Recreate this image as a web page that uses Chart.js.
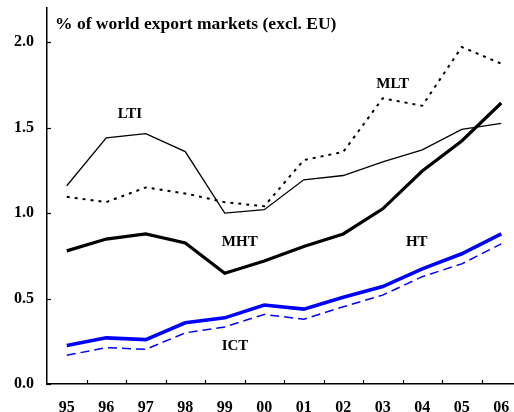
<!DOCTYPE html>
<html>
<head>
<meta charset="utf-8">
<script src="https://cdn.jsdelivr.net/npm/chart.js@4"></script>
<style>
  html, body { margin: 0; padding: 0; background: #fff; overflow: hidden; }
  #wrap { width: 514px; height: 412px; overflow: hidden; }
  canvas { display: block; }
</style>
</head>
<body>
<div id="wrap"><canvas id="c" width="522" height="412"></canvas></div>
<script>
// Export market shares by technology class, 1995-2006
const years = ['95', '96', '97', '98', '99', '00', '01', '02', '03', '04', '05', '06'];
const lti = [1.16, 1.44, 1.465, 1.36, 1.00, 1.02, 1.195, 1.22, 1.30, 1.37, 1.49, 1.525];
const mlt = [1.095, 1.064, 1.15, 1.115, 1.064, 1.04, 1.31, 1.358, 1.672, 1.628, 1.972, 1.874];
const mht = [0.779, 0.848, 0.878, 0.825, 0.648, 0.72, 0.805, 0.878, 1.025, 1.246, 1.422, 1.644];
const ht  = [0.225, 0.27, 0.26, 0.358, 0.387, 0.462, 0.438, 0.507, 0.57, 0.674, 0.762, 0.878];
const ict = [0.168, 0.213, 0.203, 0.299, 0.334, 0.407, 0.379, 0.452, 0.52, 0.628, 0.703, 0.82];
const yTicks = [0.0, 0.5, 1.0, 1.5, 2.0];

const titleText = '% of world export markets (excl. EU)';
// series captions placed in data space: [category index, value]
const captions = [
  { text: 'LTI', at: [1.6, 1.58] },
  { text: 'MLT', at: [8.25, 1.756] },
  { text: 'MHT', at: [4.38, 0.832] },
  { text: 'HT',  at: [8.86, 0.832] },
  { text: 'ICT', at: [4.26, 0.22] }
];

const FONT = '"Liberation Serif", "Times New Roman", serif';

const decorations = {
  id: 'decorations',
  afterDraw(chart) {
    const { ctx, chartArea, scales } = chart;
    const xs = scales.x, ys = scales.y;
    ctx.save();
    ctx.strokeStyle = '#000';
    ctx.lineWidth = 1.2;
    // y tick marks pointing into the plot
    yTicks.forEach(v => {
      const y = Math.round(ys.getPixelForValue(v)) + 0.5;
      ctx.beginPath();
      ctx.moveTo(chartArea.left, y);
      ctx.lineTo(chartArea.left + 4, y);
      ctx.stroke();
    });
    // x tick marks between categories, pointing up
    for (let i = 0; i < years.length - 1; i++) {
      const x = Math.round((xs.getPixelForValue(i) + xs.getPixelForValue(i + 1)) / 2) + 0.5;
      ctx.beginPath();
      ctx.moveTo(x, chartArea.bottom);
      ctx.lineTo(x, chartArea.bottom - 4);
      ctx.stroke();
    }
    // title
    ctx.fillStyle = '#000';
    ctx.font = 'bold 17.5px ' + FONT;
    ctx.textAlign = 'left';
    ctx.textBaseline = 'alphabetic';
    ctx.fillText(titleText, chartArea.left + 8, 29);
    // series captions
    ctx.font = 'bold 15px ' + FONT;
    ctx.textAlign = 'center';
    ctx.textBaseline = 'middle';
    captions.forEach(c => {
      ctx.fillText(c.text, xs.getPixelForValue(c.at[0]), ys.getPixelForValue(c.at[1]));
    });
    ctx.restore();
  }
};

new Chart(document.getElementById('c'), {
  type: 'line',
  data: {
    labels: years,
    datasets: [
      { label: 'LTI', data: lti, borderColor: '#000', borderWidth: 1.3 },
      { label: 'MLT', data: mlt, borderColor: '#000', borderWidth: 2, borderDash: [3, 5] },
      { label: 'MHT', data: mht, borderColor: '#000', borderWidth: 3.2 },
      { label: 'HT',  data: ht,  borderColor: '#0000ff', borderWidth: 3.6 },
      { label: 'ICT', data: ict, borderColor: '#0000ff', borderWidth: 1.5, borderDash: [9, 5] }
    ]
  },
  options: {
    responsive: false,
    animation: false,
    devicePixelRatio: 1,
    layout: { padding: { top: 8, right: 1, left: 0, bottom: 0 } },
    elements: {
      point: { radius: 0 },
      line: { tension: 0, fill: false, borderCapStyle: 'butt', borderJoinStyle: 'miter' }
    },
    plugins: { legend: { display: false }, tooltip: { enabled: false }, title: { display: false } },
    scales: {
      x: {
        type: 'category',
        offset: true,
        grid: { display: false, drawTicks: false },
        border: { display: true, color: '#000', width: 1.5 },
        ticks: { color: '#000', padding: 14, maxRotation: 0, autoSkip: false,
                 font: { family: FONT, size: 16, weight: 'bold' } },
        afterFit(s) { s.height = 28; s.paddingLeft = 0; s.paddingRight = 0; }
      },
      y: {
        min: 0, max: 2.2,
        grid: { display: false, drawTicks: false },
        border: { display: true, color: '#000', width: 1.5 },
        afterBuildTicks(s) { s.ticks = yTicks.map(v => ({ value: v })); },
        ticks: { color: '#000', padding: 13,
                 callback: v => v.toFixed(1),
                 font: { family: FONT, size: 16, weight: 'bold' } },
        afterFit(s) { s.width = 47; s.paddingTop = 0; s.paddingBottom = 0; }
      }
    }
  },
  plugins: [decorations]
});
</script>
</body>
</html>
